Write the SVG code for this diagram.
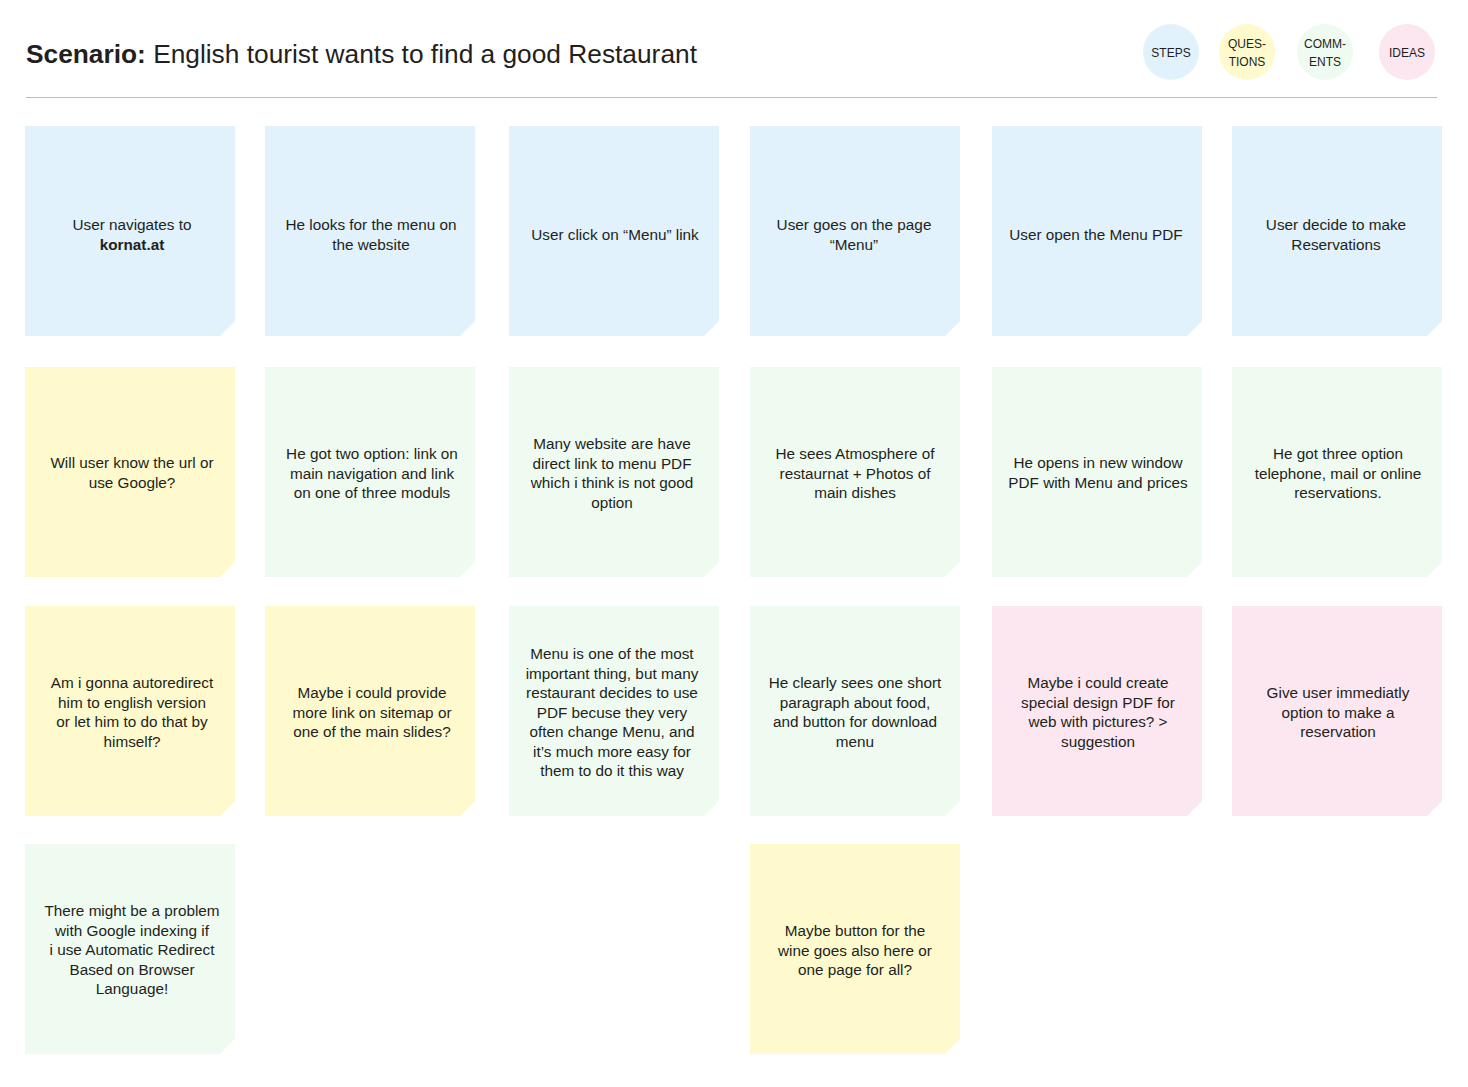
<svg xmlns="http://www.w3.org/2000/svg" width="1468" height="1087" viewBox="0 0 1468 1087">
<style>
text{font-family:"Liberation Sans",Arial,sans-serif;fill:#231f20}
.t{font-size:15.3px;text-anchor:middle}
.l{font-size:12px;text-anchor:middle}
.s{fill:#e1f2fc}.q{fill:#fefacd}.c{fill:#effbf1}.i{fill:#fce6ef}
</style>
<defs>
<path id="card" d="M0 0H210V195L195 210H0Z"/>
</defs>
<rect width="1468" height="1087" fill="#fff"/>
<text x="26" y="63" font-size="26.3"><tspan font-weight="bold">Scenario:</tspan> English tourist wants to find a good Restaurant</text>
<line x1="26" y1="97.5" x2="1437" y2="97.5" stroke="#bdbdbd" stroke-width="1.2"/>
<g id="legend">
<circle cx="1171" cy="52" r="28" class="s"/><text class="l" x="1171" y="57">STEPS</text>
<circle cx="1247" cy="52" r="28" class="q"/><text class="l" x="1247" y="48">QUES-</text><text class="l" x="1247" y="66">TIONS</text>
<circle cx="1325" cy="52" r="28" class="c"/><text class="l" x="1325" y="48">COMM-</text><text class="l" x="1325" y="66">ENTS</text>
<circle cx="1407" cy="52" r="28" class="i"/><text class="l" x="1407" y="57">IDEAS</text>
</g>
<g id="connectors"/>
<!-- Row 1 -->
<g id="n1" transform="translate(25,126)"><use href="#card" class="s"/><text class="t" x="105"><tspan x="107" y="104">User navigates to</tspan><tspan x="107" y="124" font-weight="bold">kornat.at</tspan></text></g>
<g id="n2" transform="translate(265,126)"><use href="#card" class="s"/><text class="t"><tspan x="106" y="104">He looks for the menu on</tspan><tspan x="106" y="124">the website</tspan></text></g>
<g id="n3" transform="translate(509,126)"><use href="#card" class="s"/><text class="t"><tspan x="106" y="114">User click on “Menu” link</tspan></text></g>
<g id="n4" transform="translate(750,126)"><use href="#card" class="s"/><text class="t"><tspan x="104" y="104">User goes on the page</tspan><tspan x="104" y="124">“Menu”</tspan></text></g>
<g id="n5" transform="translate(992,126)"><use href="#card" class="s"/><text class="t"><tspan x="104" y="114">User open the Menu PDF</tspan></text></g>
<g id="n6" transform="translate(1232,126)"><use href="#card" class="s"/><text class="t"><tspan x="104" y="104">User decide to make</tspan><tspan x="104" y="124">Reservations</tspan></text></g>
<!-- Row 2 -->
<g id="n7" transform="translate(25,367)"><use href="#card" class="q"/><text class="t"><tspan x="107" y="101">Will user know the url or</tspan><tspan x="107" y="121">use Google?</tspan></text></g>
<g id="n8" transform="translate(265,367)"><use href="#card" class="c"/><text class="t"><tspan x="107" y="92">He got two option: link on</tspan><tspan x="107" y="111.5">main navigation and link</tspan><tspan x="107" y="131">on one of three moduls</tspan></text></g>
<g id="n9" transform="translate(509,367)"><use href="#card" class="c"/><text class="t"><tspan x="103" y="82">Many website are have</tspan><tspan x="103" y="101.5">direct link to menu PDF</tspan><tspan x="103" y="121">which i think is not good</tspan><tspan x="103" y="140.5">option</tspan></text></g>
<g id="n10" transform="translate(750,367)"><use href="#card" class="c"/><text class="t"><tspan x="105" y="92">He sees Atmosphere of</tspan><tspan x="105" y="111.5">restaurnat + Photos of</tspan><tspan x="105" y="131">main dishes</tspan></text></g>
<g id="n11" transform="translate(992,367)"><use href="#card" class="c"/><text class="t"><tspan x="106" y="101">He opens in new window</tspan><tspan x="106" y="121">PDF with Menu and prices</tspan></text></g>
<g id="n12" transform="translate(1232,367)"><use href="#card" class="c"/><text class="t"><tspan x="106" y="92">He got three option</tspan><tspan x="106" y="111.5">telephone, mail or online</tspan><tspan x="106" y="131">reservations.</tspan></text></g>
<!-- Row 3 -->
<g id="n13" transform="translate(25,606)"><use href="#card" class="q"/><text class="t"><tspan x="107" y="82">Am i gonna autoredirect</tspan><tspan x="107" y="101.5">him to english version</tspan><tspan x="107" y="121">or let him to do that by</tspan><tspan x="107" y="140.5">himself?</tspan></text></g>
<g id="n14" transform="translate(265,606)"><use href="#card" class="q"/><text class="t"><tspan x="107" y="92">Maybe i could provide</tspan><tspan x="107" y="111.5">more link on sitemap or</tspan><tspan x="107" y="131">one of the main slides?</tspan></text></g>
<g id="n15" transform="translate(509,606)"><use href="#card" class="c"/><text class="t"><tspan x="103" y="53">Menu is one of the most</tspan><tspan x="103" y="72.5">important thing, but many</tspan><tspan x="103" y="92">restaurant decides to use</tspan><tspan x="103" y="111.5">PDF becuse they very</tspan><tspan x="103" y="131">often change Menu, and</tspan><tspan x="103" y="150.5">it’s much more easy for</tspan><tspan x="103" y="170">them to do it this way</tspan></text></g>
<g id="n16" transform="translate(750,606)"><use href="#card" class="c"/><text class="t"><tspan x="105" y="82">He clearly sees one short</tspan><tspan x="105" y="101.5">paragraph about food,</tspan><tspan x="105" y="121">and button for download</tspan><tspan x="105" y="140.5">menu</tspan></text></g>
<g id="n17" transform="translate(992,606)"><use href="#card" class="i"/><text class="t"><tspan x="106" y="82">Maybe i could create</tspan><tspan x="106" y="101.5">special design PDF for</tspan><tspan x="106" y="121">web with pictures?  &gt;</tspan><tspan x="106" y="140.5">suggestion</tspan></text></g>
<g id="n18" transform="translate(1232,606)"><use href="#card" class="i"/><text class="t"><tspan x="106" y="92">Give user immediatly</tspan><tspan x="106" y="111.5">option to make a</tspan><tspan x="106" y="131">reservation</tspan></text></g>
<!-- Row 4 -->
<g id="n19" transform="translate(25,844)"><use href="#card" class="c"/><text class="t"><tspan x="107" y="72">There might be a problem</tspan><tspan x="107" y="91.5">with Google indexing if</tspan><tspan x="107" y="111">i use Automatic Redirect</tspan><tspan x="107" y="130.5">Based on Browser</tspan><tspan x="107" y="150">Language!</tspan></text></g>
<g id="n20" transform="translate(750,844)"><use href="#card" class="q"/><text class="t"><tspan x="105" y="92">Maybe button for the</tspan><tspan x="105" y="111.5">wine goes also here or</tspan><tspan x="105" y="131">one page for all?</tspan></text></g>
</svg>
